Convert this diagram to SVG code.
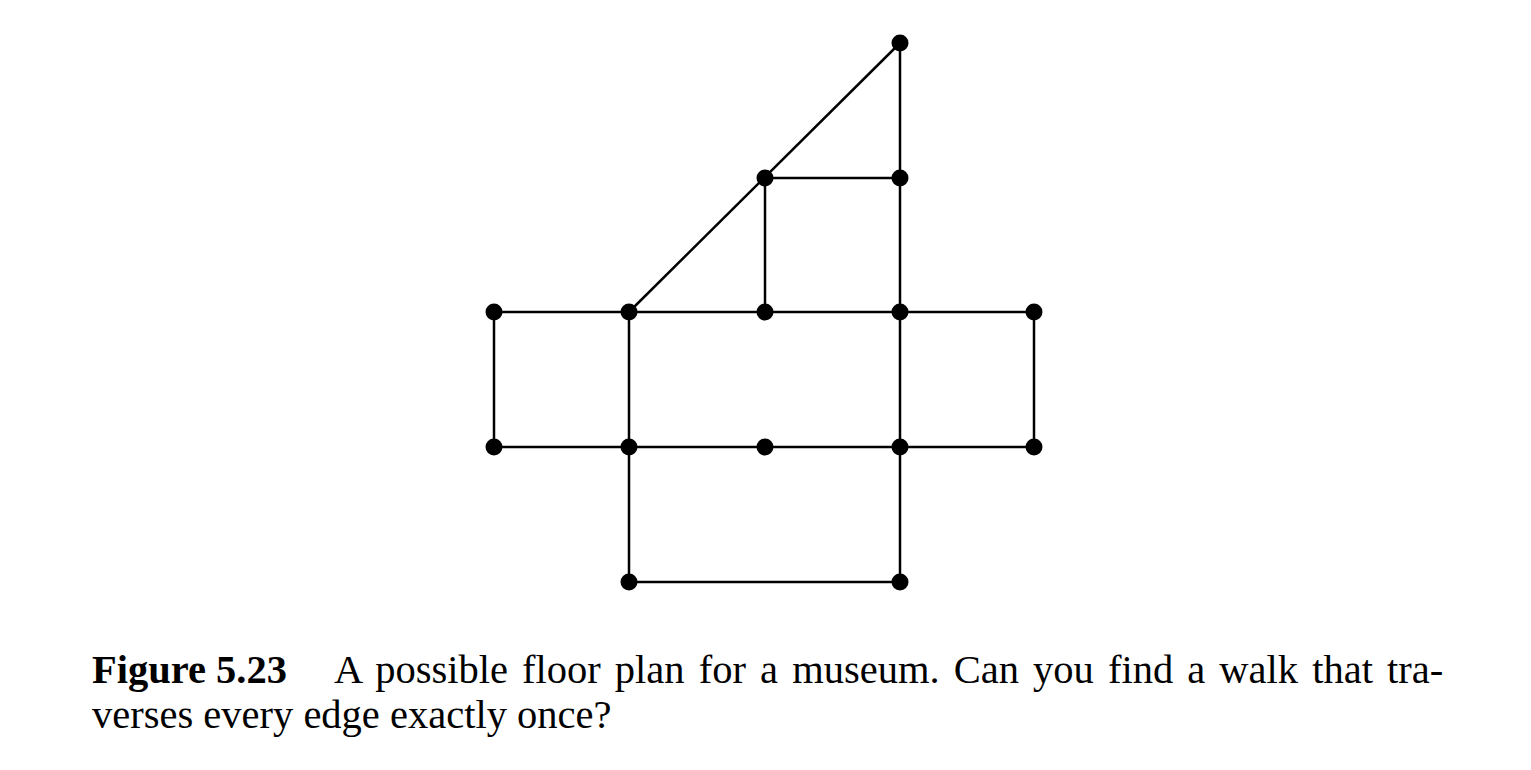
<svg xmlns="http://www.w3.org/2000/svg" width="1531" height="770" viewBox="0 0 1531 770">
<style>
.e{stroke:#000;stroke-width:2.5;fill:none;stroke-linecap:butt}
.n{fill:#000}
.t{font-family:"Liberation Serif","Times New Roman",serif;font-size:40.5px;fill:#000}
.b{font-weight:bold}
</style>
<rect width="1531" height="770" fill="#fff"/>
<g id="connectors">
<line class="e" x1="629" y1="312" x2="900" y2="43"/>
<line class="e" x1="900" y1="43" x2="900" y2="582"/>
<line class="e" x1="765" y1="178" x2="900" y2="178"/>
<line class="e" x1="765" y1="178" x2="765" y2="312"/>
<line class="e" x1="494" y1="312" x2="1034" y2="312"/>
<line class="e" x1="494" y1="447" x2="1034" y2="447"/>
<line class="e" x1="494" y1="312" x2="494" y2="447"/>
<line class="e" x1="629" y1="312" x2="629" y2="582"/>
<line class="e" x1="1034" y1="312" x2="1034" y2="447"/>
<line class="e" x1="629" y1="582" x2="900" y2="582"/>
</g>
<g id="n1"><circle class="n" cx="900" cy="43" r="8.5"/></g>
<g id="n2"><circle class="n" cx="765" cy="178" r="8.5"/></g>
<g id="n3"><circle class="n" cx="900" cy="178" r="8.5"/></g>
<g id="n4"><circle class="n" cx="494" cy="312" r="8.5"/></g>
<g id="n5"><circle class="n" cx="629" cy="312" r="8.5"/></g>
<g id="n6"><circle class="n" cx="765" cy="312" r="8.5"/></g>
<g id="n7"><circle class="n" cx="900" cy="312" r="8.5"/></g>
<g id="n8"><circle class="n" cx="1034" cy="312" r="8.5"/></g>
<g id="n9"><circle class="n" cx="494" cy="447" r="8.5"/></g>
<g id="n10"><circle class="n" cx="629" cy="447" r="8.5"/></g>
<g id="n11"><circle class="n" cx="765" cy="447" r="8.5"/></g>
<g id="n12"><circle class="n" cx="900" cy="447" r="8.5"/></g>
<g id="n13"><circle class="n" cx="1034" cy="447" r="8.5"/></g>
<g id="n14"><circle class="n" cx="629" cy="582" r="8.5"/></g>
<g id="n15"><circle class="n" cx="900" cy="582" r="8.5"/></g>
<g id="caption">
<text class="t b" x="92" y="683">Figure 5.23</text>
<text class="t" x="334" y="683" word-spacing="4">A possible floor plan for a museum.  Can you find a walk that tra-</text>
<text class="t" x="92" y="728">verses every edge exactly once?</text>
</g>
</svg>
